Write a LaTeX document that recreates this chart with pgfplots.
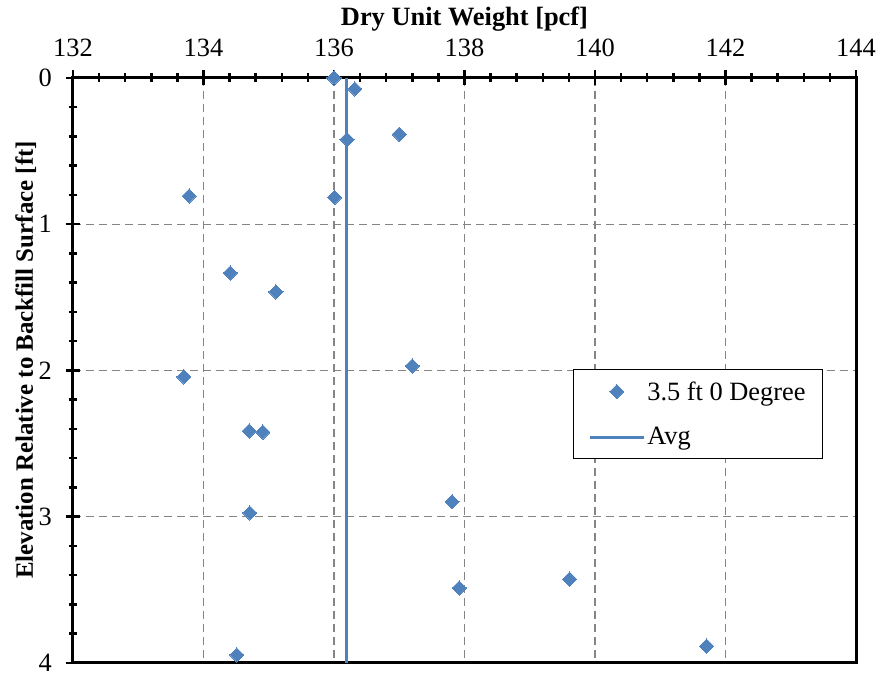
\documentclass[border=0pt]{standalone}
\usepackage{pgfplots}
\pgfplotsset{compat=1.18}
\usepackage{fontspec}
\setmainfont{Liberation Serif}
\definecolor{xlblue}{HTML}{4F81BD}
\pgfplotstableread{
x y
136.00 0.000
136.32 0.075
137.00 0.385
136.20 0.420
133.78 0.807
136.01 0.816
134.41 1.333
135.11 1.463
137.20 1.969
133.70 2.044
134.70 2.414
134.91 2.421
137.81 2.897
134.71 2.974
139.61 3.426
137.92 3.487
141.71 3.884
134.51 3.945
}\pts
\pgfplotstableread{
x y
136.19 0
136.19 4
}\avg
\pgfplotsset{
  diamleg/.style={legend image code/.code={\draw[##1] plot[only marks] coordinates {(27bp,0bp)}; \path (0bp,0bp) (54bp,0bp);}},
  lineleg/.style={legend image code/.code={\draw[##1] (0bp,0bp) -- (54bp,0bp);}},
}
\begin{document}
\begin{tikzpicture}
\begin{axis}[
  scale only axis, width=783bp, height=585bp,
  xmin=132, xmax=144, ymin=0, ymax=4, y dir=reverse,
  xtick={132,134,...,144}, ytick={0,1,2,3,4},
  minor x tick num=4, minor y tick num=4,
  xtick pos=right, ytick pos=left,
  xticklabel pos=right,
  tick align=center,
  major tick length=15bp, minor tick length=9bp,
  tick style={line width=2.5bp, black},
  axis line style={line width=3bp, black},
  grid=major,
  major grid style={dash pattern=on 8bp off 5bp, line width=1.3bp, color=black!48},
  /pgf/number format/assume math mode=true,
  ticklabel style={font=\fontsize{26.5}{31}\selectfont, inner sep=0pt},
  xticklabel style={anchor=base, yshift=13.5bp},
  yticklabel style={anchor=east, xshift=-13.5bp},
  xlabel={Dry Unit Weight [pcf]},
  ylabel={Elevation Relative to Backfill Surface [ft]},
  xlabel style={font=\fontsize{26.5}{31}\selectfont\bfseries, at={(axis description cs:0.5,1.0889)}, anchor=base, inner sep=0pt},
  ylabel style={font=\fontsize{25}{30}\selectfont\bfseries, at={(axis description cs:-0.0511,0.518)}, anchor=base, rotate=0, inner sep=0pt},
  clip=false,
  legend style={at={(0.638,0.503)}, anchor=north west, draw=black, line width=1.5bp,
    font=\fontsize{26.5}{31}\selectfont, inner xsep=15bp, inner ysep=10bp,
    row sep=22bp, cells={anchor=west}},
  legend cell align=left,
]
\addplot[only marks, mark=square*, mark size=5bp, mark options={rotate=45, fill=xlblue, draw=xlblue, line width=0pt}, diamleg]
  table[x=x,y=y] {\pts};
\addlegendentry{3.5 ft 0 Degree}
\addplot[no marks, line width=3bp, color=xlblue, lineleg]
  table[x=x,y=y] {\avg};
\addlegendentry{Avg}
\end{axis}
\path (current axis.south west) -- ++(-73bp,-13bp);
\path (current axis.north east) -- ++(25bp,78bp);
\end{tikzpicture}
\end{document}
